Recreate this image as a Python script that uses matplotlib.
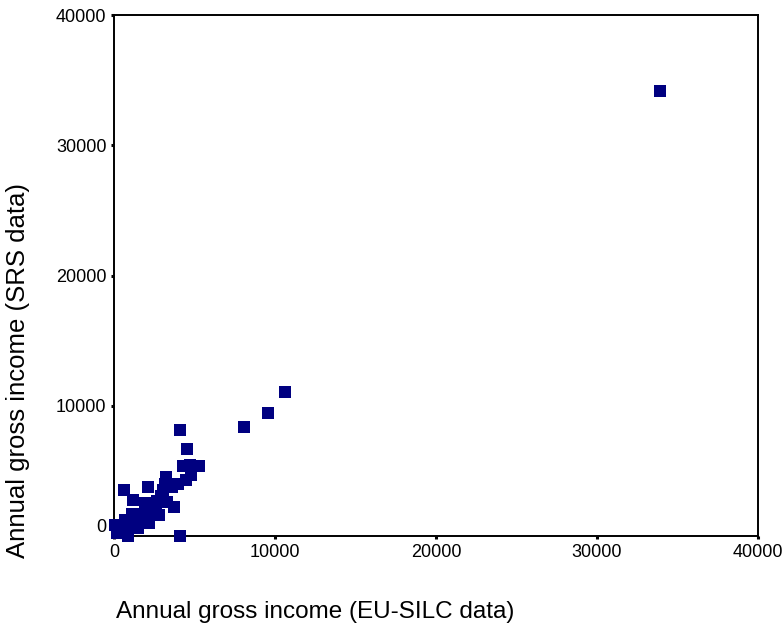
import matplotlib
matplotlib.use("Agg")
import matplotlib.pyplot as plt
from matplotlib.transforms import ScaledTranslation

plt.rcParams["font.family"] = ["Liberation Sans", "DejaVu Sans"]

# annual gross income, EU-SILC vs SRS records
eu_silc = [33900, 10650, 9550, 8050,
           4100, 4550, 4300, 4700, 5300, 4800, 4450, 3250, 3150, 3050,
           2900, 2700, 2100, 600, 1200, 3700, 4100, 2500, 2300, 2000,
           1800, 1600, 1400, 1200, 1000, 800, 600, 400, 200, 60, 900,
           1500, 2200, 2800, 3300, 3600, 4000, 1100, 700, 300, 1900, 2600]
srs = [34200, 11050, 9450, 8400,
       8100, 6650, 5400, 5450, 5400, 4700, 4300, 4500, 4000, 3500,
       3100, 2700, 3750, 3500, 2750, 2250, 0, 2400, 2100, 1900,
       1700, 1500, 1300, 1100, 900, 700, 500, 300, 200, 850, 0,
       600, 1000, 1600, 2600, 3800, 4000, 1700, 1200, 600, 2500, 1800]

ticks = [0, 10000, 20000, 30000, 40000]

fig = plt.figure(figsize=(7.82, 6.3), dpi=100)
ax = fig.add_axes([114 / 782, 94 / 630, 644 / 782, 521 / 630])

ax.scatter(eu_silc, srs, marker="s", s=74, color="#000080",
           linewidths=0, clip_on=False, zorder=3)

ax.set_xlim(0, 40000)
ax.set_ylim(0, 40000)
ax.set_xticks(ticks)
ax.set_yticks(ticks)
ax.set_xticklabels([str(t) for t in ticks])
ax.set_yticklabels([str(t) for t in ticks])
ax.tick_params(direction="out", length=2.5, width=2.2, labelsize=13,
               color="black", pad=3)
for side in ax.spines.values():
    side.set_linewidth(1.4)
    side.set_color("black")

# lift the y "0" label so it clears the x tick labels
zero_lbl = ax.get_yticklabels()[0]
zero_lbl.set_transform(zero_lbl.get_transform()
                       + ScaledTranslation(0, 10 / 100, fig.dpi_scale_trans))

fig.text(315 / 782, 1 - 612 / 630, "Annual gross income (EU-SILC data)",
         ha="center", va="center", fontsize=17.5)
fig.text(18 / 782, 1 - 370 / 630, "Annual gross income (SRS data)",
         ha="center", va="center", rotation=90, fontsize=18.5)

fig.savefig("out.png", dpi=100)
